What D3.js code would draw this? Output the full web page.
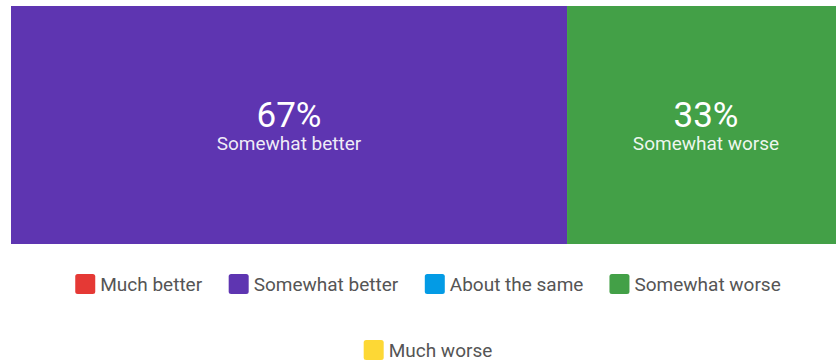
<!DOCTYPE html>
<html><head><meta charset="utf-8">
<script src="https://cdn.jsdelivr.net/npm/d3@7"></script>
<style>
html,body{margin:0;padding:0;background:#fff;overflow:hidden;}
svg{display:block;}
</style></head>
<body>
<svg id="chart" width="836" height="362"></svg>
<script>
const categories = ["Much better", "Somewhat better", "About the same", "Somewhat worse", "Much worse"];
const values = [0, 66.67, 0, 33.33, 0];
const labels = ["0%", "67%", "0%", "33%", "0%"];
const colors = ["#e53935", "#5e35b1", "#039be5", "#43a047", "#fdd835"];

const svg = d3.select("#chart");
const font = "Roboto, sans-serif";
const barLeft = 11, barRight = 845, barTop = 6, barBottom = 244;

const total = d3.sum(values);
const x = d3.scaleLinear().domain([0, total]).range([barLeft, barRight]);
let acc = 0;
const segs = categories.map((c, i) => { const s = {c, v: values[i], lab: labels[i], col: colors[i], x0: acc}; acc += values[i]; s.x1 = acc; return s; });

const g = svg.append("g");
g.selectAll("rect.seg").data(segs.filter(d => d.v > 0)).join("rect")
  .attr("class", "seg")
  .attr("x", d => x(d.x0)).attr("width", d => x(d.x1) - x(d.x0))
  .attr("y", barTop).attr("height", barBottom - barTop)
  .attr("fill", d => d.col);

const lg = g.selectAll("g.lab").data(segs.filter(d => d.v > 0)).join("g").attr("class", "lab")
  .attr("transform", d => `translate(${(x(d.x0) + x(d.x1)) / 2},0)`);
lg.append("text").attr("y", 126.5).attr("text-anchor", "middle")
  .attr("font-family", font).attr("font-size", 35).attr("fill", "#fff").text(d => d.lab);
lg.append("text").attr("y", 150).attr("text-anchor", "middle")
  .attr("font-family", font).attr("font-size", 19).attr("fill", "#fff").attr("fill-opacity", 0.92).text(d => d.c);

// legend
const legG = svg.append("g");
const items = legG.selectAll("g.li").data(segs).join("g").attr("class", "li");
items.append("rect").attr("width", 20).attr("height", 20).attr("rx", 2.5).attr("fill", d => d.col);
items.append("text").attr("x", 25).attr("y", 10).attr("dy", "0.35em")
  .attr("font-family", font).attr("font-size", 19).attr("fill", "#555").text(d => d.c);
const widths = [];
items.each(function() { widths.push(this.getBBox().width); });
const gap = 26, maxW = 810, center = (barLeft + barRight) / 2;
const rows = [[]]; let rw = 0;
widths.forEach((w, i) => {
  const add = (rows[rows.length - 1].length ? gap : 0) + w;
  if (rw + add > maxW && rows[rows.length - 1].length) { rows.push([]); rw = 0; rows[rows.length - 1].push(i); rw = w; }
  else { rows[rows.length - 1].push(i); rw += add; }
});
const rowY = [274, 340];
rows.forEach((r, ri) => {
  const tw = d3.sum(r, i => widths[i]) + gap * (r.length - 1);
  let cx = center - tw / 2;
  r.forEach(i => {
    items.filter((d, j) => j === i).attr("transform", `translate(${cx},${rowY[ri]})`);
    cx += widths[i] + gap;
  });
});
</script>
</body></html>
